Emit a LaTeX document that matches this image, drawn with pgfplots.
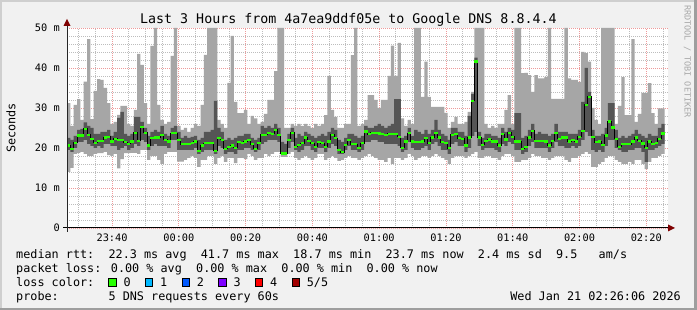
\documentclass[border=0pt]{standalone}
\usepackage{fontspec}
\setmainfont{DejaVu Sans Mono}
\usepackage{pgfplots}
\pgfplotsset{compat=1.18}
\usepackage{pgfplotstable}
\usepgfplotslibrary{fillbetween}
\usetikzlibrary{arrows.meta}

\definecolor{bgcol}{HTML}{F1F1F1}
\definecolor{shadeA}{HTML}{CFCFCF}
\definecolor{shadeB}{HTML}{9E9E9E}
\definecolor{gridcol}{HTML}{BDBDBD}
\definecolor{mgridcol}{HTML}{EE9A9A}
\definecolor{arrowred}{HTML}{7F0000}
\definecolor{smokelight}{HTML}{A6A6A6}
\definecolor{smokedark}{HTML}{555555}
\definecolor{loss0}{HTML}{26FF00}
\definecolor{loss1}{HTML}{00B8FF}
\definecolor{loss2}{HTML}{0059FF}
\definecolor{loss3}{HTML}{7E00FF}
\definecolor{loss4}{HTML}{FF0000}
\definecolor{loss5}{HTML}{A10000}
\definecolor{wmcol}{HTML}{A8A8A8}

\newcommand\axisfont{\fontsize{10.3}{12}\selectfont}
\newcommand\legfont{\fontsize{11.8}{14}\selectfont}
\newcommand\titlefont{\fontsize{13.3}{16}\selectfont}

% x = minutes from left edge (23:26:30), mn = lowest ping, qa/qb = inner band, md = median, mx = highest ping (ms)
\pgfplotstableread{
x mn qa md qb mx
0 14.0 19.5 20.6 22.5 31.2
1 15.0 19.0 19.8 22.0 25.5
2 18.5 20.0 21.3 23.0 30.8
3 18.8 21.5 23.1 24.5 32.2
4 19.0 21.5 23.1 24.8 27.0
5 18.5 22.0 24.8 26.4 36.6
6 18.0 21.0 23.3 25.5 47.2
7 18.0 20.5 22.3 25.0 27.2
8 18.5 20.0 21.3 23.5 34.3
9 18.7 20.5 21.8 23.5 37.2
10 18.7 20.0 21.8 24.0 37.0
11 19.0 21.0 22.6 24.0 35.0
12 18.2 21.0 22.8 24.5 31.2
13 18.0 20.5 21.6 23.0 26.0
14 18.5 20.5 22.3 24.0 26.5
15 14.9 19.5 22.0 27.5 28.3
16 17.2 20.0 22.0 29.0 30.5
17 18.7 20.5 21.4 23.5 30.5
18 18.7 19.5 21.0 23.0 26.0
19 18.8 20.0 21.6 23.5 25.5
20 18.8 21.0 23.8 27.8 29.5
21 18.5 20.5 21.8 27.8 43.5
22 19.5 22.0 25.3 26.5 40.8
23 19.5 21.5 23.8 25.0 31.2
24 17.0 19.5 20.6 23.0 26.0
25 18.0 20.5 22.4 24.0 45.5
26 18.0 21.0 22.6 24.5 50
27 17.0 20.5 22.6 24.0 30.8
28 16.0 20.5 23.3 25.5 27.0
29 18.5 20.5 22.0 23.5 26.0
30 19.0 20.0 21.6 23.0 26.5
31 19.0 22.0 23.7 25.0 43.0
32 19.0 22.0 23.7 25.5 50
33 16.6 19.5 22.0 24.0 25.5
34 16.6 19.5 20.9 22.5 24.5
35 17.0 19.5 20.9 23.0 25.0
36 17.5 19.5 20.9 22.5 24.0
37 18.0 19.5 21.2 22.8 25.0
38 17.5 20.0 21.6 23.0 26.0
39 15.3 18.5 19.3 22.0 25.5
40 17.0 19.0 20.6 22.5 30.8
41 17.0 19.5 21.2 24.0 43.3
42 18.0 19.5 21.2 24.0 50
43 18.0 19.5 21.2 24.5 50
44 16.0 18.5 19.3 31.8 50
45 17.5 20.5 22.4 25.0 27.0
46 18.0 20.0 22.0 24.0 26.0
47 16.5 18.5 19.8 22.0 25.0
48 17.5 19.0 20.3 22.5 36.3
49 17.5 19.0 20.6 22.0 48.0
50 16.2 18.5 20.0 22.5 31.5
51 17.5 19.5 21.4 23.0 28.7
52 17.5 19.5 21.3 23.0 28.7
53 17.2 20.0 21.6 23.5 29.5
54 18.5 20.0 21.9 23.5 26.0
55 18.0 19.5 20.9 22.5 28.0
56 17.0 19.0 19.8 22.0 27.4
57 17.5 19.5 21.2 22.5 26.0
58 17.5 21.0 23.3 25.5 26.5
59 18.5 21.5 23.3 25.0 28.5
60 18.0 22.0 23.7 25.5 32.0
61 18.5 22.0 23.5 25.0 32.0
62 19.0 22.0 24.5 26.0 39.2
63 19.0 21.5 23.3 25.0 50
64 17.8 18.5 18.6 21.5 50
65 17.8 18.5 18.6 21.0 25.0
66 18.5 20.0 22.0 23.5 25.0
67 19.0 21.5 23.8 25.0 26.0
68 17.5 19.5 20.3 22.5 25.5
69 17.0 19.0 20.8 23.5 26.0
70 17.5 19.5 21.2 23.0 25.5
71 18.0 20.5 22.6 24.0 26.0
72 17.5 20.5 21.8 23.5 25.5
73 17.0 19.5 21.2 23.0 25.0
74 17.5 19.0 20.3 22.5 26.0
75 18.5 20.0 21.4 23.0 25.5
76 18.5 20.0 21.2 23.5 26.0
77 17.0 19.0 20.3 23.0 28.2
78 17.5 20.0 21.6 24.0 38.0
79 18.0 21.0 23.3 25.0 29.5
80 17.5 20.5 22.4 24.5 27.8
81 16.8 18.5 19.5 22.0 25.0
82 17.0 18.5 18.9 21.5 25.0
83 17.5 19.5 20.8 22.5 26.0
84 18.0 20.5 22.0 23.5 26.0
85 17.5 19.5 20.9 23.5 43.2
86 17.5 19.5 20.9 23.0 50
87 17.0 19.0 20.0 22.5 25.5
88 17.5 19.5 21.2 23.0 26.0
89 18.0 21.5 24.1 25.5 27.0
90 18.5 21.5 23.4 25.0 33.2
91 18.0 22.0 23.8 25.0 33.2
92 17.5 22.0 23.8 25.5 32.0
93 17.0 21.5 23.6 26.0 30.0
94 17.0 21.5 23.4 25.5 32.0
95 16.5 21.0 23.3 25.0 32.0
96 17.5 21.0 23.5 25.5 38.0
97 16.0 21.0 23.5 26.0 45.6
98 17.5 21.0 23.5 32.2 38.0
99 17.5 20.5 22.8 32.2 46.3
100 17.0 19.0 20.0 22.5 27.4
101 17.5 19.5 21.6 23.0 25.5
102 18.5 21.5 23.7 25.0 27.0
103 18.0 20.0 21.6 23.0 26.0
104 17.0 19.5 21.4 24.5 50
105 17.5 19.5 21.4 24.0 50
106 18.0 20.0 21.6 23.5 32.8
107 18.0 20.5 22.4 24.5 41.6
108 17.5 19.5 21.2 23.5 32.8
109 18.0 21.0 22.6 24.5 30.3
110 18.5 21.5 23.7 27.0 30.3
111 18.0 20.5 22.6 24.5 30.3
112 17.5 19.5 21.4 23.5 30.3
113 17.0 19.5 21.2 23.0 28.8
114 16.0 18.5 19.9 22.0 25.0
115 17.5 21.0 23.3 25.0 26.5
116 18.0 21.5 23.4 25.0 27.8
117 18.0 20.5 22.4 24.0 26.0
118 18.0 20.5 22.3 24.0 26.0
119 17.5 19.0 20.6 23.0 26.5
120 18.0 20.0 22.6 28.0 29.0
121 18.5 23.0 31.8 33.5 34.0
122 19.0 24.0 41.6 42.6 50
123 17.5 20.5 22.6 24.0 50
124 17.5 19.5 20.8 22.5 50
125 18.0 20.0 21.8 23.5 26.0
126 18.0 20.0 22.1 23.5 25.0
127 17.5 20.0 21.6 23.0 25.5
128 17.5 19.5 21.6 23.0 25.0
129 17.0 19.0 20.6 22.5 26.0
130 18.0 21.0 23.4 25.0 26.0
131 18.5 20.5 22.1 24.0 29.5
132 18.5 21.5 23.8 25.0 33.2
133 18.0 21.0 22.8 24.5 26.0
134 16.5 19.5 21.6 28.7 50
135 16.5 19.5 21.6 28.7 50
136 17.0 18.5 19.8 22.5 38.7
137 17.0 19.0 20.3 23.0 38.8
138 17.5 20.5 22.6 24.5 38.2
139 18.5 21.5 24.3 26.0 34.0
140 18.0 20.0 21.8 23.5 38.2
141 18.0 20.0 21.8 24.0 37.4
142 17.5 20.0 21.8 23.5 37.4
143 17.5 20.0 21.6 23.5 37.8
144 17.0 19.0 20.6 23.0 50
145 17.5 20.0 21.8 23.5 32.3
146 18.0 21.5 23.7 26.0 32.3
147 18.0 20.5 22.3 24.0 32.3
148 18.0 20.5 22.6 24.0 32.3
149 17.0 20.0 22.6 24.0 50
150 16.5 20.0 21.6 23.5 37.4
151 17.5 20.5 22.0 23.5 37.0
152 17.5 20.0 21.6 23.5 37.0
153 18.0 20.5 22.8 24.5 36.5
154 18.5 22.0 24.3 31.5 44.0
155 19.0 24.0 30.8 40.0 43.7
156 18.5 23.0 32.8 34.0 41.6
157 15.3 19.5 22.8 24.5 30.0
158 15.3 19.0 21.4 23.0 27.0
159 16.0 19.5 21.6 23.0 26.0
160 16.5 19.0 20.8 23.5 50
161 17.5 20.5 23.1 25.0 50
162 18.0 22.0 26.6 31.2 50
163 18.0 22.0 25.1 31.2 50
164 17.0 20.0 22.3 24.5 26.0
165 16.5 19.5 20.3 22.5 30.5
166 16.0 19.0 20.9 23.0 37.7
167 16.0 19.0 20.9 22.5 28.2
168 16.5 19.5 20.9 23.0 28.2
169 16.0 19.5 21.6 23.5 47.2
170 17.0 20.0 22.6 24.5 26.5
171 17.0 20.0 21.8 23.5 28.5
172 16.0 19.0 21.1 23.0 33.8
173 14.7 16.5 20.0 22.5 33.8
174 16.5 19.5 21.6 23.5 36.2
175 17.5 19.5 20.9 23.0 28.7
176 17.5 20.0 21.2 23.0 26.0
177 18.0 20.5 22.3 25.0 29.9
178 18.5 21.0 23.6 26.0 29.9
179 18.5 21.0 23.6 26.0 29.9
}\smoke

\begin{document}%
\pagecolor{bgcol}%
\begin{tikzpicture}[x=1pt,y=1pt]
\fill[shadeA] (0,0) rectangle (2,310);
\fill[shadeA] (0,308) rectangle (697,310);
\fill[shadeB] (0,0) rectangle (697,2);
\fill[shadeB] (694,0) rectangle (697,310);
\begin{axis}[
  at={(67pt,82pt)}, anchor=south west,
  scale only axis, width=601pt, height=200pt,
  xmin=0, xmax=180, ymin=0, ymax=50,
  axis background/.style={fill=white},
  axis line style={draw=none},
  xtick={13.5,33.5,53.5,73.5,93.5,113.5,133.5,153.5,173.5},
  xticklabels={23:40,00:00,00:20,00:40,01:00,01:20,01:40,02:00,02:20},
  minor xtick={3.5,8.5,18.5,23.5,28.5,38.5,43.5,48.5,58.5,63.5,68.5,78.5,83.5,88.5,98.5,103.5,108.5,118.5,123.5,128.5,138.5,143.5,148.5,158.5,163.5,168.5,178.5},
  ytick={0,10,20,30,40,50},
  yticklabels={0,10 m,20 m,30 m,40 m,50 m},
  minor ytick={2,4,6,8,12,14,16,18,22,24,26,28,32,34,36,38,42,44,46,48},
  grid=both,
  major grid style={draw=mgridcol, dash pattern=on 1pt off 1pt, line width=0.8pt},
  minor grid style={draw=gridcol, dash pattern=on 1pt off 1pt, line width=0.8pt},
  major tick length=0pt, minor tick length=0pt,
  xticklabel style={font=\axisfont, anchor=north, inner sep=0pt, yshift=-6pt},
  yticklabel style={font=\axisfont, anchor=east, inner sep=0pt, xshift=-7pt},
]
\addplot[const plot, draw=none, name path=pmx] table[x=x,y=mx] {\smoke};
\addplot[const plot, draw=none, name path=pqb] table[x=x,y=qb] {\smoke};
\addplot[const plot, draw=none, name path=pqa] table[x=x,y=qa] {\smoke};
\addplot[const plot, draw=none, name path=pmn] table[x=x,y=mn] {\smoke};
\addplot[smokelight, draw=none] fill between[of=pmx and pmn];
\addplot[smokedark, draw=none] fill between[of=pqb and pqa];
\addplot[const plot, black, line width=1pt] table[x=x,y=md] {\smoke};
\addplot[jump mark left, loss0, line width=2.2pt] table[x=x,y=md] {\smoke};
\end{axis}
% axes with arrows
\draw[black, line width=1pt] (63,82) -- (668,82);
\fill[arrowred] (668,78.5) -- (675,82) -- (668,85.5) -- cycle;
\draw[black!85, line width=1pt] (67,78) -- (67,284);
\fill[arrowred] (63.5,284) -- (67,291) -- (70.5,284) -- cycle;
% title and labels
\node[anchor=base west, font=\titlefont, inner sep=0pt] at (140,286) {Last 3 Hours from 4a7ea9ddf05e to Google DNS 8.8.4.4};
\node[rotate=90, font=\legfont, inner sep=0pt] at (11,182) {Seconds};
\node[rotate=-90, anchor=base west, font=\fontsize{8.5}{9}\selectfont, text=wmcol, inner sep=0pt] at (684.5,305) {RRDTOOL / TOBI OETIKER};
% legend
\node[anchor=base west, font=\legfont, inner sep=0pt] at (16,51.7) {median rtt:\ \ 22.3 ms avg\ \ 41.7 ms max\ \ 18.7 ms min\ \ 23.7 ms now\ \ 2.4 ms sd\ \ 9.5\ \ \ am/s};
\node[anchor=base west, font=\legfont, inner sep=0pt] at (16,37.7) {packet loss: 0.00 \% avg\ \ 0.00 \% max\ \ 0.00 \% min\ \ 0.00 \% now};
\node[anchor=base west, font=\legfont, inner sep=0pt] at (16,23.7) {loss color:};
\foreach \c/\lab [count=\k from 0] in {loss0/0,loss1/1,loss2/2,loss3/3,loss4/4,loss5/5\slash 5}{
  \filldraw[fill=\c, draw=black, line width=0.6pt] ({108.5+36.67*\k},24) rectangle ++(7.5,7.5);
  \node[anchor=base west, font=\legfont, inner sep=0pt] at ({123.3+36.67*\k},23.7) {\lab};
}
\node[anchor=base west, font=\legfont, inner sep=0pt] at (16,9.7) {probe:\ \ \ \ \ \ \ 5 DNS requests every 60s};
\node[anchor=base east, font=\legfont, inner sep=0pt] at (681,9.7) {Wed Jan 21 02:26:06 2026};
\pgfresetboundingbox
\path[use as bounding box] (0,0) rectangle (697,310);
\end{tikzpicture}%
\end{document}
